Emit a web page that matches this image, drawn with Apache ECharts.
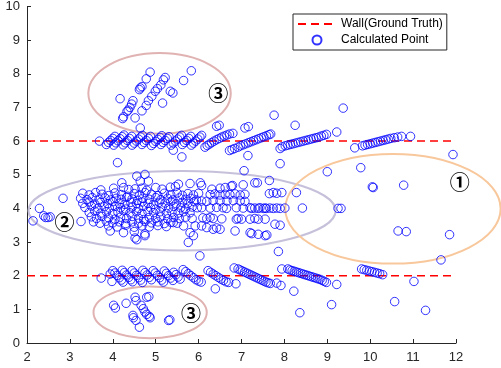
<!DOCTYPE html>
<html>
<head>
<meta charset="utf-8">
<script src="https://cdn.jsdelivr.net/npm/echarts@6/dist/echarts.min.js"></script>
<style>
  html, body { margin: 0; padding: 0; background: #fff; }
  #chart { width: 501px; height: 368px; }
</style>
</head>
<body>
<div id="chart"></div>
<script>
// wall lines (ground truth)
const wallUpper = [[2, 6], [12, 6]];
const wallLower = [[2, 2], [12, 2]];

// points along the y=6 wall
const upperWallPoints = [
  [3.69, 6.0],
  [3.85, 5.9], [3.9, 5.96], [3.95, 6.02], [4.0, 6.08], [4.05, 6.14],
  [4.02, 5.88], [4.07, 5.95], [4.12, 6.01], [4.17, 6.07], [4.22, 6.13], [4.26, 6.18],
  [4.24, 5.89], [4.29, 5.95], [4.34, 6.02], [4.39, 6.08], [4.44, 6.14],
  [4.45, 5.88], [4.5, 5.94], [4.55, 6.0], [4.6, 6.06], [4.65, 6.12], [4.69, 6.17],
  [4.68, 5.9], [4.73, 5.96], [4.78, 6.02], [4.83, 6.08], [4.88, 6.14],
  [4.9, 5.87], [4.95, 5.93], [5.0, 5.99], [5.05, 6.05], [5.1, 6.11], [5.14, 6.16],
  [5.12, 5.9], [5.17, 5.96], [5.22, 6.02], [5.27, 6.08], [5.31, 6.13],
  [5.36, 5.88], [5.41, 5.94], [5.46, 6.0], [5.51, 6.06], [5.56, 6.12], [5.6, 6.17],
  [5.62, 5.9], [5.67, 5.96], [5.72, 6.02], [5.77, 6.08], [5.82, 6.14],
  [5.83, 5.88], [5.88, 5.94], [5.93, 6.0], [5.98, 6.06], [6.03, 6.12], [6.07, 6.17],
  [6.15, 5.82], [6.2, 5.87], [6.25, 5.91], [6.3, 5.95], [6.36, 6.0], [6.42, 6.04],
  [6.48, 6.08], [6.54, 6.12], [6.6, 6.15], [6.66, 6.18], [6.72, 6.21], [6.8, 6.23],
  [6.72, 5.72], [6.78, 5.75], [6.84, 5.78], [6.92, 5.82], [6.98, 5.86], [7.04, 5.89],
  [7.1, 5.92], [7.16, 5.95], [7.22, 5.98], [7.28, 6.01], [7.34, 6.04], [7.4, 6.07],
  [7.46, 6.1], [7.52, 6.13], [7.58, 6.16], [7.64, 6.19], [7.68, 6.21],
  [7.9, 5.78], [7.95, 5.83], [8.02, 5.86], [8.08, 5.88], [8.14, 5.9], [8.2, 5.92],
  [8.26, 5.94], [8.32, 5.96], [8.38, 5.98], [8.44, 6.0], [8.5, 6.02], [8.56, 6.04],
  [8.62, 6.06], [8.68, 6.08], [8.74, 6.1], [8.8, 6.12], [8.86, 6.15], [8.92, 6.17], [8.98, 6.2],
  [9.64, 5.8], [9.82, 5.86], [9.88, 5.88], [9.94, 5.9], [10.0, 5.92], [10.06, 5.94],
  [10.12, 5.96], [10.18, 5.98], [10.24, 6.0], [10.3, 6.02], [10.36, 6.04], [10.42, 6.06],
  [10.48, 6.08], [10.56, 6.1], [10.64, 6.12], [10.73, 6.14], [10.94, 6.14]
];

// points along the y=2 wall
const lowerWallPoints = [
  [3.73, 1.93], [3.94, 2.05], [3.98, 1.83],
  [4.0, 2.15], [4.05, 2.08], [4.1, 2.01], [4.15, 1.94], [4.2, 1.87], [4.24, 1.81],
  [4.22, 2.16], [4.27, 2.09], [4.32, 2.02], [4.37, 1.95], [4.42, 1.88], [4.46, 1.82],
  [4.45, 2.15], [4.5, 2.08], [4.55, 2.01], [4.6, 1.94], [4.65, 1.87], [4.69, 1.8],
  [4.7, 2.16], [4.75, 2.09], [4.8, 2.02], [4.85, 1.95], [4.9, 1.88],
  [4.94, 2.15], [4.99, 2.08], [5.04, 2.01], [5.09, 1.94], [5.14, 1.87], [5.18, 1.81],
  [5.2, 2.14], [5.25, 2.07], [5.3, 2.0], [5.35, 1.93], [5.4, 1.86],
  [5.42, 2.1], [5.47, 2.03], [5.52, 1.96], [5.57, 1.9],
  [5.64, 2.18], [5.7, 2.12], [5.76, 2.06], [5.82, 2.0], [5.88, 1.94], [5.94, 1.88], [6.0, 1.84], [6.06, 1.81],
  [6.22, 2.15], [6.28, 2.1], [6.34, 2.05], [6.4, 2.0], [6.46, 1.95], [6.52, 1.9], [6.58, 1.86], [6.64, 1.82], [6.7, 1.8],
  [6.39, 1.61], [6.83, 2.23], [6.87, 1.76],
  [6.92, 2.2], [6.97, 2.17], [7.02, 2.14], [7.07, 2.11], [7.12, 2.08], [7.17, 2.05],
  [7.22, 2.02], [7.27, 1.99], [7.32, 1.96], [7.37, 1.93], [7.42, 1.9], [7.47, 1.87],
  [7.52, 1.84], [7.57, 1.81], [7.62, 1.79], [7.67, 1.77],
  [7.82, 1.78], [7.92, 1.71], [7.94, 2.2],
  [8.08, 2.2], [8.13, 2.17], [8.18, 2.15], [8.23, 2.13], [8.28, 2.11], [8.33, 2.09],
  [8.38, 2.07], [8.43, 2.05], [8.48, 2.03], [8.53, 2.01], [8.58, 1.99], [8.63, 1.97],
  [8.68, 1.95], [8.73, 1.93], [8.78, 1.91], [8.83, 1.89], [8.88, 1.86], [8.93, 1.83], [8.98, 1.8],
  [8.22, 1.54], [9.22, 1.74],
  [9.8, 2.2], [9.86, 2.18], [9.92, 2.16], [9.98, 2.14], [10.04, 2.12], [10.1, 2.1],
  [10.16, 2.08], [10.22, 2.06], [10.29, 2.03],
  [11.02, 1.83], [11.65, 2.47]
];

// region 2: between the walls
const middlePoints = [
  [2.14, 3.63], [2.29, 4.0], [2.39, 3.78], [2.43, 3.73], [2.49, 3.73], [2.54, 3.75], [2.84, 4.3], [3.26, 3.61],
  [4.11, 5.36], [4.56, 4.96], [4.75, 5.01], [4.21, 4.76], [4.64, 4.81], [4.83, 4.81],
  [5.53, 4.72], [5.8, 4.74], [6.04, 4.76], [6.07, 4.68],
  [3.72, 4.55], [4.02, 4.6], [4.25, 4.62], [4.37, 4.56], [4.52, 4.58], [4.68, 4.6], [4.79, 4.54],
  [5.0, 4.62], [5.15, 4.57], [5.34, 4.63], [5.46, 4.65],
  [6.31, 4.57], [6.5, 4.6], [6.62, 4.62], [6.76, 4.66], [6.79, 4.68], [7.04, 4.7], [7.31, 4.76], [7.37, 4.76], [7.65, 4.83],
  [3.3, 4.45], [3.45, 4.4], [3.6, 4.47], [3.75, 4.42], [3.9, 4.38], [4.05, 4.46], [4.2, 4.41], [4.35, 4.36],
  [4.5, 4.44], [4.62, 4.4], [4.75, 4.47], [4.9, 4.42], [5.05, 4.38], [5.2, 4.45], [5.35, 4.41], [5.5, 4.46],
  [5.62, 4.39], [5.75, 4.44], [5.88, 4.4], [6.0, 4.45],
  [6.27, 4.41], [6.38, 4.43], [6.5, 4.4], [6.62, 4.42], [6.73, 4.41], [6.85, 4.43], [6.97, 4.4], [7.08, 4.42],
  [7.65, 4.44], [7.74, 4.47], [7.82, 4.45], [7.94, 4.47],
  [3.25, 4.3], [3.4, 4.26], [3.52, 4.32], [3.68, 4.27], [3.82, 4.31], [3.95, 4.25], [4.08, 4.3], [4.2, 4.27],
  [4.32, 4.33], [4.45, 4.28], [4.58, 4.24], [4.7, 4.3], [4.85, 4.27], [5.0, 4.32], [5.12, 4.26], [5.28, 4.3],
  [5.4, 4.25], [5.55, 4.31], [5.7, 4.27], [5.82, 4.3], [5.95, 4.25],
  [3.3, 4.15], [3.45, 4.19], [3.58, 4.13], [3.72, 4.18], [3.88, 4.14], [4.0, 4.2], [4.15, 4.15], [4.28, 4.12],
  [4.42, 4.18], [4.55, 4.14], [4.68, 4.19], [4.82, 4.15], [4.95, 4.12], [5.08, 4.18], [5.22, 4.16], [5.35, 4.2],
  [5.48, 4.14], [5.62, 4.18], [5.75, 4.15], [5.9, 4.2],
  [6.07, 4.22], [6.19, 4.21], [6.34, 4.23], [6.5, 4.22], [6.66, 4.22], [6.81, 4.23], [6.97, 4.22], [7.08, 4.21],
  [3.35, 4.03], [3.5, 4.07], [3.65, 4.0], [3.8, 4.05], [3.92, 4.01], [4.05, 4.06], [4.18, 4.02], [4.3, 3.98],
  [4.45, 4.04], [4.6, 4.0], [4.72, 4.06], [4.88, 4.02], [5.0, 3.98], [5.15, 4.04], [5.3, 4.01], [5.42, 4.06],
  [5.58, 4.02], [5.7, 3.99], [5.85, 4.04],
  [5.97, 4.02], [6.07, 4.02], [6.27, 4.01], [6.42, 4.03], [6.57, 4.02], [6.65, 4.0], [6.88, 4.02], [7.04, 4.01],
  [7.2, 4.02], [7.24, 4.0], [7.31, 4.01], [7.39, 4.0], [7.43, 4.02], [7.51, 4.0], [7.55, 4.01], [7.58, 4.0],
  [7.66, 4.01], [7.74, 4.0], [7.82, 4.01], [7.9, 4.0], [8.01, 4.01], [8.42, 4.01],
  [3.45, 3.88], [3.58, 3.92], [3.72, 3.86], [3.85, 3.9], [4.0, 3.85], [4.12, 3.89], [4.25, 3.93], [4.4, 3.87],
  [4.55, 3.9], [4.68, 3.85], [4.82, 3.91], [4.95, 3.87], [5.1, 3.9], [5.25, 3.85], [5.38, 3.89], [5.52, 3.86],
  [5.65, 3.9], [5.8, 3.87],
  [3.5, 3.75], [3.62, 3.7], [3.75, 3.76], [3.9, 3.72], [4.05, 3.68], [4.18, 3.74], [4.32, 3.7], [4.45, 3.76],
  [4.6, 3.71], [4.72, 3.67], [4.85, 3.73], [5.0, 3.7], [5.12, 3.75], [5.28, 3.69], [5.42, 3.73], [5.55, 3.7],
  [5.7, 3.74], [5.85, 3.7],
  [6.1, 3.72], [6.19, 3.7], [6.27, 3.73], [6.34, 3.7], [6.54, 3.69], [6.88, 3.68], [6.92, 3.7], [7.0, 3.68],
  [7.2, 3.68], [7.31, 3.7], [7.39, 3.68], [7.55, 3.68], [7.78, 3.53], [7.9, 3.5],
  [3.55, 3.6], [3.7, 3.56], [3.85, 3.62], [4.0, 3.57], [4.15, 3.6], [4.3, 3.55], [4.45, 3.6], [4.6, 3.56],
  [4.75, 3.61], [4.9, 3.57], [5.05, 3.6], [5.2, 3.55], [5.35, 3.59], [5.41, 3.58], [5.5, 3.56],
  [3.9, 3.48], [4.1, 3.45], [4.3, 3.5], [4.5, 3.44], [4.68, 3.48], [4.85, 3.45], [5.05, 3.49], [5.25, 3.46],
  [5.65, 3.48], [5.92, 3.48], [6.07, 3.48], [6.19, 3.43], [6.34, 3.38], [6.42, 3.42], [6.5, 3.38], [6.85, 3.33],
  [3.94, 3.33], [4.25, 3.28], [4.5, 3.31], [4.75, 3.24], [4.52, 3.12], [4.56, 3.07], [4.75, 3.19],
  [5.8, 3.28], [5.88, 3.19], [7.2, 3.28], [7.24, 3.25], [7.39, 3.23], [7.55, 3.19], [7.59, 3.21],
  [5.76, 2.99], [6.03, 2.59], [7.86, 2.72]
];

// region 1 and other stray points
const strayPoints = [
  [9.0, 5.09], [8.28, 4.47], [9.25, 4.0], [9.32, 4.0], [9.78, 5.21], [10.05, 4.64], [10.07, 4.62],
  [10.78, 4.69], [10.65, 3.33], [10.84, 3.31], [11.85, 3.22], [11.93, 5.6],
  [7.06, 5.12], [7.9, 5.33], [5.41, 5.73], [5.61, 5.53], [7.15, 5.57],
  [9.22, 6.27], [9.37, 6.98], [7.76, 6.77], [8.25, 6.47], [6.42, 6.44], [6.48, 6.47], [7.08, 6.39], [7.16, 6.43],
  [8.36, 0.9], [9.1, 1.14], [10.57, 1.23], [11.29, 0.97]
];

// region 3 (above the upper wall)
const upperGhostPoints = [
  [4.17, 7.26], [4.23, 6.67], [4.25, 6.72], [4.33, 6.88], [4.36, 6.92], [4.4, 7.0], [4.44, 7.1], [4.47, 7.2],
  [4.52, 6.69], [4.62, 7.53], [4.64, 7.58], [4.68, 7.62], [4.78, 7.85], [4.87, 8.05],
  [4.64, 6.39], [4.68, 6.9], [4.78, 7.06], [4.83, 7.2], [4.91, 7.33], [4.99, 7.48], [5.04, 7.56],
  [5.12, 7.67], [5.18, 7.82], [5.22, 7.89], [5.16, 7.13],
  [5.34, 7.48], [5.4, 7.43], [5.65, 7.8], [5.83, 8.09]
];

// region 3 (below the lower wall)
const lowerGhostPoints = [
  [4.02, 1.12], [4.06, 1.04], [4.31, 1.18], [4.52, 1.36], [4.54, 1.26], [4.79, 1.36], [4.84, 1.38],
  [4.66, 1.12], [4.71, 1.02], [4.75, 0.92], [4.79, 0.85], [4.85, 0.79], [4.87, 0.75],
  [4.47, 0.82], [4.48, 0.75], [4.54, 0.67], [4.62, 0.47], [5.3, 0.67], [5.33, 0.69]
];

// annotation ellipses: [centerX, centerY, radiusX, radiusY]
const ellipses = [
  [5.09, 7.42, 1.66, 1.2],
  [5.615, 3.93, 3.58, 1.18],
  [10.53, 3.99, 2.51, 1.63],
  [4.87, 0.91, 1.32, 0.77]
];
const ellipseColors = ["#e0b2b2", "#c6c0da", "#f8c89c", "#e0b2b2"];

// annotation labels: [text, x, y]
const regionLabels = [
  ["③", 6.46, 7.42],
  ["②", 2.875, 3.58],
  ["①", 12.09, 4.78],
  ["③", 5.82, 0.89]
];

const xTicks = [2, 3, 4, 5, 6, 7, 8, 9, 10, 11, 12];
const yTicks = [0, 1, 2, 3, 4, 5, 6, 7, 8, 9, 10];

const allPoints = [].concat(upperWallPoints, lowerWallPoints, middlePoints, strayPoints, upperGhostPoints, lowerGhostPoints);

const chart = echarts.init(document.getElementById("chart"), null, { renderer: "canvas" });

const axisColor = "#262626";
const font = "Liberation Sans";

const wallLine = {
  type: "line",
  name: "Wall(Ground Truth)",
  symbol: "none",
  silent: true,
  z: 3,
  itemStyle: { color: "#ff0000" },
  lineStyle: { color: "#ff0000", width: 1.5, type: [8, 5] }
};

chart.setOption({
  animation: false,
  grid: { left: 27, right: 45, top: 5, bottom: 25 },
  legend: {
    data: [
      { name: "Wall(Ground Truth)", itemStyle: { opacity: 0 } },
      { name: "Calculated Point" }
    ],
    orient: "vertical",
    left: 293,
    top: 14,
    padding: [4, 4, 4, 4],
    itemWidth: 38,
    itemHeight: 9,
    itemGap: 4,
    backgroundColor: "#fff",
    borderColor: axisColor,
    borderWidth: 1,
    textStyle: { color: "#000", fontSize: 12, fontFamily: font }
  },
  xAxis: {
    type: "value",
    min: xTicks[0],
    max: xTicks[xTicks.length - 1],
    interval: 1,
    axisLine: { lineStyle: { color: axisColor, width: 1 } },
    axisTick: { inside: true, length: 4, lineStyle: { color: axisColor } },
    axisLabel: { color: axisColor, fontSize: 13, fontFamily: font, margin: 8 },
    splitLine: { show: false }
  },
  yAxis: {
    type: "value",
    min: yTicks[0],
    max: yTicks[yTicks.length - 1],
    interval: 1,
    axisLine: { show: true, lineStyle: { color: axisColor, width: 1 } },
    axisTick: { show: true, inside: true, length: 4, lineStyle: { color: axisColor } },
    axisLabel: { color: axisColor, fontSize: 13, fontFamily: font, margin: 7 },
    splitLine: { show: false }
  },
  series: [
    {
      type: "custom",
      silent: true,
      z: 1,
      data: ellipses,
      renderItem: (params, api) => {
        const c = api.coord([api.value(0), api.value(1)]);
        const rx = api.size([api.value(2), 0])[0];
        const ry = api.size([0, api.value(3)])[1];
        return {
          type: "ellipse",
          shape: { cx: c[0], cy: c[1], rx: rx, ry: ry },
          style: { fill: "none", stroke: ellipseColors[params.dataIndex], lineWidth: 2 }
        };
      }
    },
    Object.assign({ data: wallUpper }, wallLine),
    Object.assign({ data: wallLower }, wallLine),
    {
      type: "scatter",
      name: "Calculated Point",
      z: 4,
      symbol: "circle",
      symbolSize: 8.5,
      data: allPoints,
      itemStyle: { color: "rgba(0,0,0,0)", borderColor: "rgba(0,0,255,0.8)", borderWidth: 1, opacity: 1 }
    },
    {
      type: "custom",
      silent: true,
      z: 5,
      data: regionLabels.map((d) => [d[1], d[2]]),
      renderItem: (params, api) => {
        const c = api.coord([api.value(0), api.value(1)]);
        return {
          type: "text",
          x: c[0],
          y: c[1],
          style: {
            text: regionLabels[params.dataIndex][0],
            fill: "#000",
            fontSize: 20,
            fontWeight: "bold",
            fontFamily: "Noto Sans CJK SC",
            align: "center",
            verticalAlign: "middle"
          }
        };
      }
    }
  ]
});
</script>
</body>
</html>
